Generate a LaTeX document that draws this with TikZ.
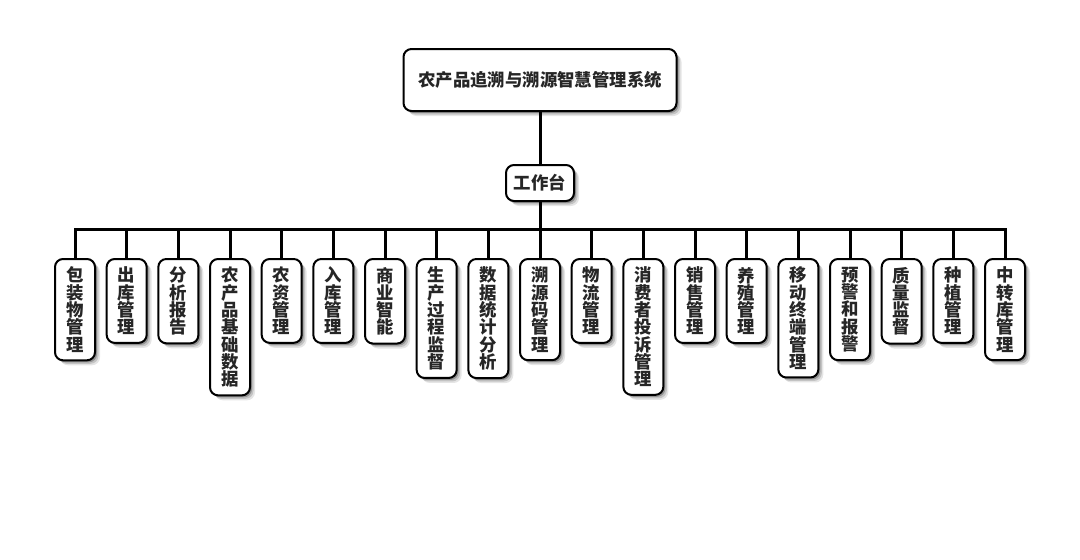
\documentclass[tikz,border=0pt]{standalone}
\usepackage{fontspec}
\newfontfamily\cjk{Noto Sans CJK SC}
\usetikzlibrary{shadows}

\begin{document}
\begin{tikzpicture}[
  x=1pt,y=-1pt,
  soft/.style={general shadow={fill=black,opacity=0.10,shadow xshift=5pt,shadow yshift=-5pt},
               general shadow={fill=black,opacity=0.15,shadow xshift=3.5pt,shadow yshift=-3.5pt},
               general shadow={fill=black,opacity=0.25,shadow xshift=2pt,shadow yshift=-2pt}},
  box/.style={soft,draw=black,line width=2pt,rounded corners=8pt,fill=white,
              text=black!85,font=\cjk\bfseries\fontsize{17.4}{17.3}\selectfont,align=center},
  kid/.style={box,anchor=north,minimum width=40,inner xsep=0,inner ysep=8},
  link/.style={draw=black,line width=3pt},
]
\useasboundingbox (0,0) rectangle (1080,560);
\node[box,minimum width=273,minimum height=62] (sys) at (540,80) {农产品追溯与溯源智慧管理系统};
\node[box,minimum width=68,minimum height=36,inner sep=0] (desk) at (540,183) {工作台};
\coordinate (bus) at (540,229);
\draw[link] (sys) -- (desk);
\draw[link] (desk) -- (bus);
\foreach \t [count=\i] in {{包\\装\\物\\管\\理},{出\\库\\管\\理},{分\\析\\报\\告},{农\\产\\品\\基\\础\\数\\据},{农\\资\\管\\理},{入\\库\\管\\理},{商\\业\\智\\能},{生\\产\\过\\程\\监\\督},{数\\据\\统\\计\\分\\析},{溯\\源\\码\\管\\理},{物\\流\\管\\理},{消\\费\\者\\投\\诉\\管\\理},{销\\售\\管\\理},{养\\殖\\管\\理},{移\\动\\终\\端\\管\\理},{预\\警\\和\\报\\警},{质\\量\\监\\督},{种\\植\\管\\理},{中\\转\\库\\管\\理}}{
  \node[kid] (m\i) at ({75+(\i-1)*51.667},258) {\t};
  \draw[link] (m\i.north) |- (bus);
}
\end{tikzpicture}
\end{document}
